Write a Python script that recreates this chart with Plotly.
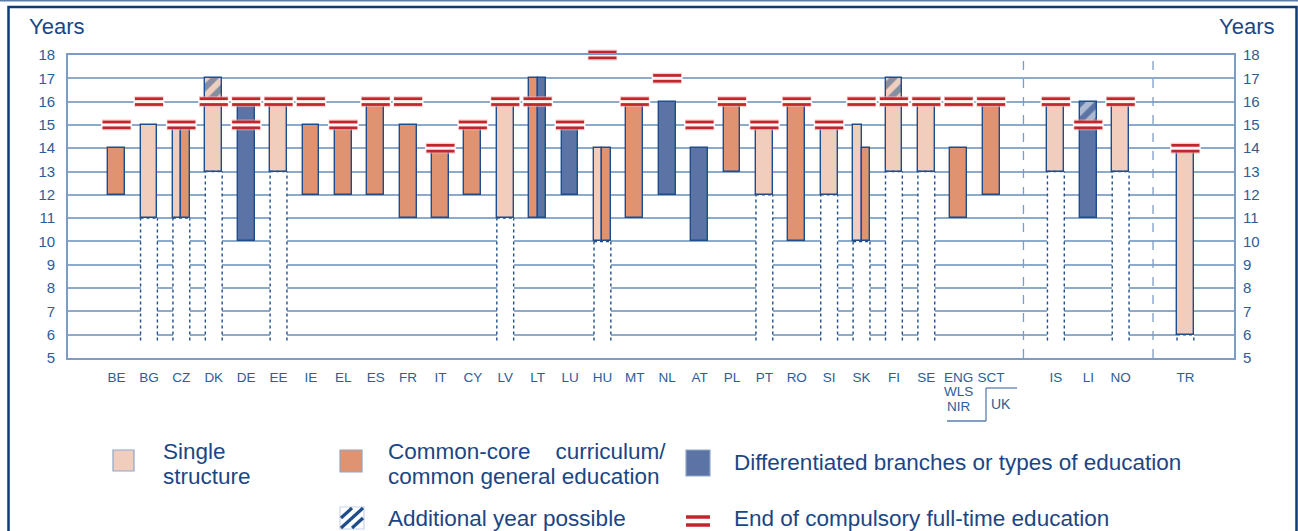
import plotly.graph_objects as go

# ---------------- data ----------------
countries = ["BE", "BG", "CZ", "DK", "DE", "EE", "IE", "EL", "ES", "FR", "IT", "CY",
             "LV", "LT", "LU", "HU", "MT", "NL", "AT", "PL", "PT", "RO", "SI", "SK",
             "FI", "SE", "ENG", "SCT", "IS", "LI", "NO", "TR"]
group_sizes = [28, 3, 1]          # EU | EFTA | candidate
N = None
single_from = [N, 11, 11, 13, N, 13, N, N, N, N, N, N, 11, N, N, 10, N, N, N, N, 12, N, 12, 10, 13, 13, N, N, 13, N, 13, 6]
single_to = [N, 15, 15, 16, N, 16, N, N, N, N, N, N, 16, N, N, 14, N, N, N, N, 15, N, 15, 15, 16, 16, N, N, 16, N, 16, 14]
core_from = [12, N, 11, N, N, N, 12, 12, 12, 11, 11, 12, N, 11, N, 10, 11, N, N, 13, N, 10, N, 10, N, N, 11, 12, N, N, N, N]
core_to = [14, N, 15, N, N, N, 15, 15, 16, 15, 14, 15, N, 17, N, 14, 16, N, N, 16, N, 16, N, 14, N, N, 14, 16, N, N, N, N]
diff_from = [N, N, N, N, 10, N, N, N, N, N, N, N, N, 11, 12, N, N, 12, 10, N, N, N, N, N, N, N, N, N, N, 11, N, N]
diff_to = [N, N, N, N, 16, N, N, N, N, N, N, N, N, 17, 15, N, N, 16, 14, N, N, N, N, N, N, N, N, N, N, 15, N, N]
extra_from = [N, N, N, 16, N, N, N, N, N, N, N, N, N, N, N, N, N, N, N, N, N, N, N, N, 16, N, N, N, N, 15, N, N]
extra_to = [N, N, N, 17, N, N, N, N, N, N, N, N, N, N, N, N, N, N, N, N, N, N, N, N, 17, N, N, N, N, 16, N, N]
end_main = [15, 16, 15, 16, 16, 16, 16, 15, 16, 16, 14, 15, 16, 16, 15, 18, 16, 17, 15, 16, 15, 16, 15, 16,
            16, 16, 16, 16, 16, 15, 16, 14]
end_second = [N, N, N, N, 15, N, N, N, N, N, N, N, N, N, N, N, N, N, N, N, N, N, N, N, N, N, N, N, N, N, N, N]
tick_labels = ["BE", "BG", "CZ", "DK", "DE", "EE", "IE", "EL", "ES", "FR", "IT", "CY",
               "LV", "LT", "LU", "HU", "MT", "NL", "AT", "PL", "PT", "RO", "SI", "SK",
               "FI", "SE", "ENG", "SCT", "IS", "LI", "NO", "TR"]
y_ticks = list(range(5, 19))

# ---------------- style ----------------
C_SINGLE = "#f0cdbc"
C_CORE = "#df9371"
C_DIFF = "#5b74a5"
C_EDGE = "#1f4c8a"
C_RED = "#c0272d"
C_TXT = "#1b4685"
C_TICK = "#2d5c98"
C_GRID = "#8eaacb"
BAR_W = 0.52
DOT_BOTTOM = 5.75
TICKFONT = "Liberation Sans, Arial, sans-serif"
LEGFONT = "Liberation Sans, Arial, sans-serif"
LEGSIZE = 22.5

# positions: groups separated by one empty slot
positions = []
p = 0
for gi, gs in enumerate(group_sizes):
    for _ in range(gs):
        positions.append(p)
        p += 1
    p += 1
separators = []
acc = 0
for gs in group_sizes[:-1]:
    acc += gs
    separators.append(positions[acc - 1] + 1)

# build segments
segs = {"single": ([], [], [], []), "core": ([], [], [], []), "diff": ([], [], [], [])}
for i, pos in enumerate(positions):
    present = []
    for name, f, t in (("single", single_from, single_to), ("core", core_from, core_to),
                       ("diff", diff_from, diff_to)):
        if f[i] is not None:
            present.append((name, f[i], t[i]))
    n = len(present)
    w = BAR_W / max(n, 1)
    for k, (name, f, t) in enumerate(present):
        xc = pos - BAR_W / 2 + w * (k + 0.5)
        xs, bs, hs, ws = segs[name]
        xs.append(xc)
        bs.append(f)
        hs.append(t - f)
        ws.append(w)

fig = go.Figure()

# white cover + dotted outline below single structure
wx, wb, wh = [], [], []
dx, dy = [], []
for i, pos in enumerate(positions):
    if single_from[i] is not None:
        top = single_from[i]
        wx.append(pos)
        wb.append(DOT_BOTTOM)
        wh.append(top - DOT_BOTTOM)
        xl, xr = pos - BAR_W / 2, pos + BAR_W / 2
        dx += [xl, xl, None, xr, xr, None, xl, xr, None]
        dy += [DOT_BOTTOM, top, None, DOT_BOTTOM, top, None, top, top, None]
fig.add_trace(go.Bar(x=wx, base=wb, y=wh, width=BAR_W, marker=dict(color="white", line=dict(width=0)),
                     hoverinfo="skip", showlegend=False))

colors = {"single": C_SINGLE, "core": C_CORE, "diff": C_DIFF}
for name in ("single", "core", "diff"):
    xs, bs, hs, ws = segs[name]
    fig.add_trace(go.Bar(x=xs, base=bs, y=hs, width=ws,
                         marker=dict(color=colors[name], line=dict(color=C_EDGE, width=1.4)),
                         showlegend=False, hoverinfo="skip"))

# additional year (hatched)
for i, pos in enumerate(positions):
    if extra_from[i] is not None:
        below = "single"
        if diff_to[i] is not None and diff_to[i] == extra_from[i]:
            below = "diff"
        fg = "white" if below == "diff" else C_EDGE
        fig.add_trace(go.Bar(x=[pos], base=[extra_from[i]], y=[extra_to[i] - extra_from[i]], width=BAR_W,
                             marker=dict(color=colors[below], line=dict(color=C_EDGE, width=1.4),
                                         pattern=dict(shape="/", fgcolor=fg, size=12,
                                                      solidity=0.5, fillmode="overlay")),
                             showlegend=False, hoverinfo="skip"))

fig.add_trace(go.Scatter(x=dx, y=dy, mode="lines", line=dict(color=C_EDGE, width=1.4, dash="dot"),
                         hoverinfo="skip", showlegend=False))

# separators
for s in separators:
    fig.add_trace(go.Scatter(x=[s, s], y=[5, 18], mode="lines",
                             line=dict(color="#7d9cc4", width=1.3, dash="dash"),
                             hoverinfo="skip", showlegend=False))

# end of compulsory education marks (double line drawn as stacked line markers)
mx, my = [], []
for i, pos in enumerate(positions):
    for v in (end_main[i], end_second[i]):
        if v is not None:
            mx.append(pos)
            my.append(v)
for size, color, width in ((21, "rgba(236,175,175,0.6)", 11),
                           (20, C_RED, 8.5),
                           (22, "rgba(255,255,255,0.95)", 3)):
    fig.add_trace(go.Scatter(x=mx, y=my, mode="markers", cliponaxis=False, hoverinfo="skip",
                             showlegend=False,
                             marker=dict(symbol="line-ew", size=size, line=dict(color=color, width=width))))

# right axis anchor trace
fig.add_trace(go.Scatter(x=[positions[0]], y=[5], yaxis="y2", mode="markers", opacity=0,
                         hoverinfo="skip", showlegend=False))

# ---------------- layout ----------------
L, R, T, B = 68, 64, 55, 173
W, H = 1298, 531
PW, PH = W - L - R, H - T - B


def px(x):
    return (x - L) / PW


def py(y):
    return (H - B - y) / PH


eng_i = countries.index("ENG")
fig.update_layout(
    width=W, height=H, margin=dict(l=L, r=R, t=T, b=B),
    paper_bgcolor="white", plot_bgcolor="white", barmode="overlay", bargap=0,
    xaxis=dict(range=[positions[0] - 1.5, positions[-1] + 1.5], tickvals=positions, ticktext=tick_labels,
               showgrid=False, zeroline=False, showline=True, linecolor="#7d9cc4", linewidth=1.8,
               mirror=True, ticks="", tickfont=dict(family=TICKFONT, size=13.5, color=C_TICK),
               ticklabelstandoff=6),
    yaxis=dict(range=[5, 18], tickvals=y_ticks, showgrid=True, gridcolor=C_GRID, gridwidth=1.5,
               zeroline=False, showline=True, linecolor="#7d9cc4", linewidth=1.8, mirror=True,
               ticks="", tickfont=dict(family=TICKFONT, size=15, color=C_TICK), ticklabelstandoff=8),
    yaxis2=dict(range=[5, 18], tickvals=y_ticks, overlaying="y", side="right", showgrid=False,
                zeroline=False, showline=False, ticks="",
                tickfont=dict(family=TICKFONT, size=15, color=C_TICK), ticklabelstandoff=8),
)

shapes = []
ann = []
# outer frame
shapes.append(dict(type="line", xref="paper", yref="paper", x0=px(0), x1=px(W), y0=py(0.7), y1=py(0.7),
                   line=dict(color="#5b7eac", width=1.5)))
shapes.append(dict(type="rect", xref="paper", yref="paper", x0=px(8.5), x1=px(1296.5), y0=py(7), y1=py(545),
                   line=dict(color="#0d3b78", width=2.5)))
# Years labels
ann.append(dict(text="Years", xref="paper", yref="paper", x=px(27), y=py(26), xanchor="left",
                yanchor="middle", showarrow=False, font=dict(family=LEGFONT, size=22, color=C_TXT)))
ann.append(dict(text="Years", xref="paper", yref="paper", x=px(1276), y=py(26), xanchor="right",
                yanchor="middle", showarrow=False, font=dict(family=LEGFONT, size=22, color=C_TXT)))
# WLS / NIR and UK bracket
for k, t in enumerate(["WLS", "NIR"]):
    ann.append(dict(text=t, xref="x", yref="paper", x=positions[eng_i], y=py(391 + 15 * k),
                    xanchor="center", yanchor="middle", showarrow=False,
                    font=dict(family=TICKFONT, size=13.5, color=C_TICK)))
ann.append(dict(text="UK", xref="paper", yref="paper", x=px(1001), y=py(404), xanchor="center",
                yanchor="middle", showarrow=False, font=dict(family=TICKFONT, size=14, color=C_TICK)))
for (x0, y0, x1, y1) in [(947, 421, 986, 421), (986, 421, 986, 388), (986, 388, 1017, 388)]:
    shapes.append(dict(type="line", xref="paper", yref="paper", x0=px(x0), y0=py(y0), x1=px(x1), y1=py(y1),
                       line=dict(color="#5b7eac", width=1.3)))


# legend
def swatch(x0, y0, x1, y1, fill, edge):
    shapes.append(dict(type="rect", xref="paper", yref="paper", x0=px(x0), x1=px(x1), y0=py(y1), y1=py(y0),
                       fillcolor=fill, line=dict(color=edge, width=1.2)))


def label(x, y, text):
    ann.append(dict(text=text, xref="paper", yref="paper", x=px(x), y=py(y), xanchor="left",
                    yanchor="middle", align="left", showarrow=False,
                    font=dict(family=LEGFONT, size=LEGSIZE, color=C_TXT)))


swatch(113, 450, 134, 471, C_SINGLE, "#8fa6c6")
label(161, 451, "Single")
label(161, 476, "structure")
swatch(340, 450, 362, 472, C_CORE, "#8fa6c6")
label(386, 451, "Common-core\u00a0\u00a0\u00a0\u00a0curriculum/")
label(386, 476, "common general education")
swatch(686, 450, 710, 476, C_DIFF, "#8fa6c6")
label(732, 463, "Differentiated branches or types of education")
swatch(340, 507, 364, 529, "white", "#c8d4e6")
for (x0, y0, x1, y1) in [(341, 518, 352, 508), (341, 528, 363, 508), (352, 528, 363, 518)]:
    shapes.append(dict(type="line", xref="paper", yref="paper", x0=px(x0), y0=py(y0), x1=px(x1), y1=py(y1),
                       line=dict(color=C_EDGE, width=3.2)))
label(386, 518, "Additional year possible")
for yy in (517, 525):
    shapes.append(dict(type="line", xref="paper", yref="paper", x0=px(686), y0=py(yy), x1=px(710), y1=py(yy),
                       line=dict(color=C_RED, width=3.5)))
label(732, 518, "End of compulsory full-time education")

fig.update_layout(shapes=shapes, annotations=ann)
fig.write_html("out.html", config={"displayModeBar": False},
               post_script="document.body.style.margin='0px';document.body.style.overflow='hidden';")
